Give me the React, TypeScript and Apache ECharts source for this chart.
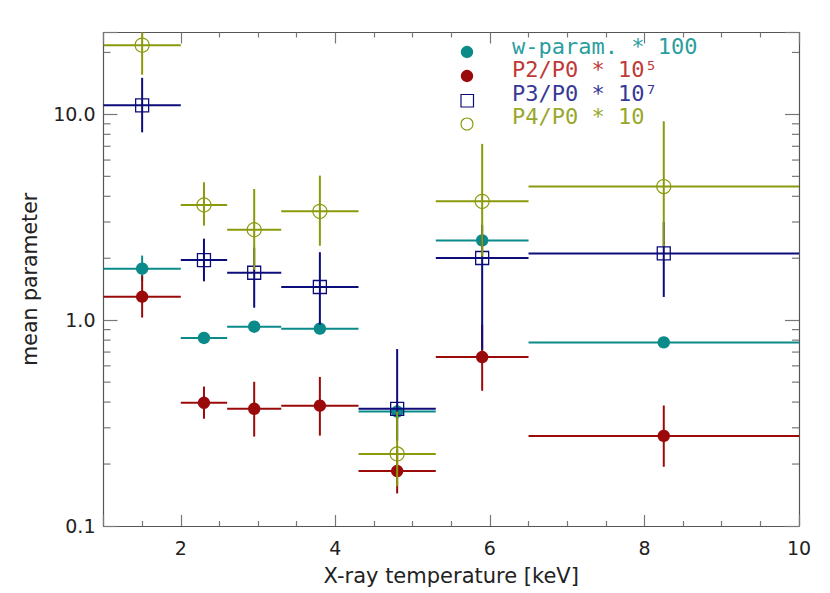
import React, { useEffect, useRef } from "react";
import * as echarts from "echarts";

// Temperature bins (keV)
const binCenter = [1.5, 2.3, 2.95, 3.8, 4.8, 5.9, 8.25];
const binLow = [1.0, 2.0, 2.6, 3.3, 4.3, 5.3, 6.5];
const binHigh = [2.0, 2.6, 3.3, 4.3, 5.3, 6.5, 10.0];

// w-param. * 100
const wParam = [1.78, 0.82, 0.93, 0.91, 0.36, 2.44, 0.78];
const wParamLow = [1.55, 0.82, 0.93, 0.91, 0.36, 2.44, 0.78];
const wParamHigh = [2.06, 0.82, 0.93, 0.91, 0.36, 2.44, 0.78];

// P2/P0 * 1e5
const p2 = [1.3, 0.397, 0.371, 0.384, 0.185, 0.662, 0.274];
const p2Low = [1.03, 0.332, 0.272, 0.275, 0.144, 0.454, 0.194];
const p2High = [1.65, 0.476, 0.502, 0.53, 0.235, 0.95, 0.385];

// P3/P0 * 1e7
const p3 = [11.07, 1.96, 1.7, 1.45, 0.371, 2.006, 2.11];
const p3Low = [8.18, 1.545, 1.15, 0.95, 0.26, 0.719, 1.297];
const p3High = [15.05, 2.49, 2.25, 2.14, 0.724, 2.9, 3.0];

// P4/P0 * 10
const p4 = [21.7, 3.63, 2.75, 3.38, 0.224, 3.78, 4.46];
const p4Low = [15.6, 2.88, 1.76, 2.3, 0.156, 2.04, 2.29];
const p4High = [25, 4.68, 4.34, 5.04, 0.36, 7.19, 9.26];

// y minor tick positions (log axis)
const yMinorTicks = [0.2, 0.3, 0.4, 0.5, 0.6, 0.7, 0.8, 0.9, 2, 3, 4, 5, 6, 7, 8, 9, 20];

const legendLabels = ["w-param. * 100", "P2/P0 * 10\u2075", "P3/P0 * 10\u2077", "P4/P0 * 10"];

const TEAL = "#0b8a8a";
const RED = "#9a0a0a";
const NAVY = "#0c0c7a";
const OLIVE = "#8a9a0c";

function buildData(v: number[], lo: number[], hi: number[]) {
  return binCenter.map((xc, i) => [xc, binLow[i], binHigh[i], v[i], lo[i], hi[i]]);
}

function errSeries(name: string, data: number[][], color: string, marker: string) {
  return {
    type: "custom",
    name,
    data,
    encode: { x: [0, 1, 2], y: [3, 4, 5] },
    z: 3,
    renderItem: (params: any, api: any) => {
      const xc = api.value(0), xlo = api.value(1), xhi = api.value(2);
      const yc = api.value(3), ylo = api.value(4), yhi = api.value(5);
      const c = api.coord([xc, yc]);
      const l = api.coord([xlo, yc]);
      const r = api.coord([xhi, yc]);
      const t = api.coord([xc, yhi]);
      const b = api.coord([xc, ylo]);
      const lineStyle = { stroke: color, lineWidth: 2 };
      const children: any[] = [
        { type: "line", shape: { x1: l[0], y1: l[1], x2: r[0], y2: r[1] }, style: lineStyle },
        { type: "line", shape: { x1: t[0], y1: t[1], x2: b[0], y2: b[1] }, style: lineStyle },
      ];
      if (marker === "dot") {
        children.push({ type: "circle", shape: { cx: c[0], cy: c[1], r: 6.2 }, style: { fill: color } });
      } else if (marker === "square") {
        children.push({
          type: "rect",
          shape: { x: c[0] - 6.5, y: c[1] - 6.5, width: 13, height: 13 },
          style: { fill: "none", stroke: color, lineWidth: 1.3 },
        });
      } else {
        children.push({
          type: "circle",
          shape: { cx: c[0], cy: c[1], r: 7 },
          style: { fill: "none", stroke: color, lineWidth: 1.2 },
        });
      }
      return { type: "group", children };
    },
  };
}

const axisFont = "DejaVu Sans";

function yLabel(v: number) {
  if (Math.abs(v - 0.1) < 1e-6) return "0.1";
  if (Math.abs(v - 1) < 1e-6) return "1.0";
  if (Math.abs(v - 10) < 1e-6) return "10.0";
  return "";
}

export default function App() {
  const ref = useRef<HTMLDivElement>(null);
  useEffect(() => {
    if (!ref.current) return;
    const chart = echarts.init(ref.current, undefined, { renderer: "svg" });
    const axisLine = { show: true, lineStyle: { color: "#555", width: 1.2 } };
    const tickStyle = { color: "#777", width: 1.2 };
    const xBase = {
      type: "value",
      min: 1,
      max: 10,
      splitNumber: 5,
      axisLine,
      axisTick: { show: true, inside: true, length: 11, lineStyle: tickStyle },
      minorTick: { show: true, splitNumber: 4, length: 5, lineStyle: tickStyle },
      splitLine: { show: false },
      minorSplitLine: { show: false },
    };
    const yBase = {
      type: "log",
      logBase: 10,
      min: 0.1,
      max: 25,
      axisLine,
      axisTick: { show: true, inside: true, length: 14, lineStyle: tickStyle },
      splitLine: { show: false },
    };
    const legendY = [46, 69.5, 93, 116.5];
    const legendTextColors = ["#2a9e9e", "#c03838", "#383896", "#98a82c"];
    const graphic: any[] = [
      { type: "circle", shape: { cx: 467, cy: 52, r: 6.2 }, style: { fill: TEAL } },
      { type: "circle", shape: { cx: 467, cy: 76, r: 6.2 }, style: { fill: RED } },
      {
        type: "rect",
        shape: { x: 461, y: 94.5, width: 12.5, height: 12.5 },
        style: { fill: "none", stroke: NAVY, lineWidth: 1.2 },
      },
      { type: "circle", shape: { cx: 467, cy: 124, r: 6 }, style: { fill: "none", stroke: OLIVE, lineWidth: 1.1 } },
    ];
    legendLabels.forEach((t, i) => {
      graphic.push({
        type: "text",
        x: 512,
        y: legendY[i],
        style: {
          text: t,
          fill: legendTextColors[i],
          font: `22px "DejaVu Sans Mono"`,
          verticalAlign: "middle",
          align: "left",
        },
      });
    });

    chart.setOption({
      animation: false,
      backgroundColor: "#fff",
      grid: { left: 103.5, right: 31, top: 32.5, bottom: 67, containLabel: false },
      xAxis: [
        {
          ...xBase,
          position: "bottom",
          name: "X-ray temperature [keV]",
          nameLocation: "middle",
          nameGap: 39,
          nameTextStyle: { fontFamily: axisFont, fontSize: 21, color: "#222" },
          axisLabel: {
            show: true,
            margin: 12,
            fontFamily: axisFont,
            fontSize: 19,
            color: "#222",
            formatter: (v: number) => (Math.abs(v - 1) < 1e-6 ? "" : String(v)),
          },
        },
        { ...xBase, position: "top", axisLabel: { show: false } },
      ],
      yAxis: [
        {
          ...yBase,
          position: "left",
          name: "mean parameter",
          nameLocation: "middle",
          nameGap: 63,
          nameTextStyle: { fontFamily: axisFont, fontSize: 20.5, color: "#222" },
          axisLabel: {
            show: true,
            margin: 8,
            fontFamily: axisFont,
            fontSize: 19,
            color: "#222",
            formatter: yLabel,
          },
        },
        { ...yBase, position: "right", axisLabel: { show: false } },
      ],
      graphic,
      series: [
        {
          type: "custom",
          name: "yminor",
          data: yMinorTicks.map((v) => [v]),
          encode: { y: 0 },
          silent: true,
          z: 1,
          renderItem: (params: any, api: any) => {
            const v = api.value(0);
            const l = api.coord([1, v]);
            const r = api.coord([10, v]);
            const st = { stroke: "#777", lineWidth: 1.2 };
            return {
              type: "group",
              children: [
                { type: "line", shape: { x1: l[0], y1: l[1], x2: l[0] + 7, y2: l[1] }, style: st },
                { type: "line", shape: { x1: r[0] - 7, y1: r[1], x2: r[0], y2: r[1] }, style: st },
              ],
            };
          },
        },
        errSeries("w-param", buildData(wParam, wParamLow, wParamHigh), TEAL, "dot"),
        errSeries("P2/P0", buildData(p2, p2Low, p2High), RED, "dot"),
        errSeries("P3/P0", buildData(p3, p3Low, p3High), NAVY, "square"),
        errSeries("P4/P0", buildData(p4, p4Low, p4High), OLIVE, "ring"),
      ],
    });
    return () => chart.dispose();
  }, []);
  return (
    <div
      ref={ref}
      style={{ position: "absolute", left: 0, top: 0, width: 830, height: 593 }}
    />
  );
}
